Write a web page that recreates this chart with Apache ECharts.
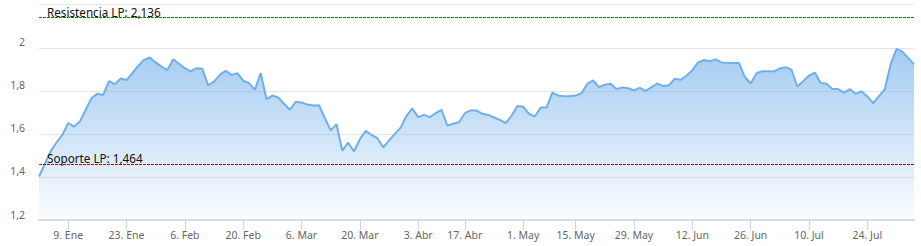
<!DOCTYPE html>
<html>
<head>
<meta charset="utf-8">
<script src="https://cdn.jsdelivr.net/npm/echarts@6/dist/echarts.min.js"></script>
<style>
html,body{margin:0;padding:0;background:#fff;}
#chart{width:921px;height:246px;}
</style>
</head>
<body>
<div id="chart"></div>
<script>
// ---- data ----
const startDate = '2023-01-02';
const endDate = '2023-08-03';
const holidays = ['2023-04-07', '2023-04-10', '2023-05-01'];

const prices = [
  1.402, 1.46, 1.52, 1.56, 1.595, 1.650, 1.634, 1.657, 1.712, 1.766,
  1.786, 1.781, 1.845, 1.831, 1.857, 1.850, 1.882, 1.916, 1.944, 1.955,
  1.932, 1.913, 1.896, 1.947, 1.926, 1.905, 1.890, 1.905, 1.902, 1.825,
  1.843, 1.874, 1.893, 1.874, 1.882, 1.847, 1.836, 1.805, 1.882, 1.761,
  1.778, 1.769, 1.740, 1.712, 1.749, 1.746, 1.736, 1.732, 1.733, 1.673,
  1.616, 1.645, 1.522, 1.560, 1.518, 1.575, 1.614, 1.595, 1.580, 1.538,
  1.569, 1.600, 1.629, 1.684, 1.718, 1.678, 1.688, 1.678, 1.696, 1.712,
  1.639, 1.647, 1.654, 1.696, 1.709, 1.709, 1.693, 1.688, 1.676, 1.665,
  1.650, 1.684, 1.730, 1.726, 1.693, 1.681, 1.722, 1.722, 1.792, 1.778,
  1.775, 1.775, 1.778, 1.789, 1.833, 1.848, 1.817, 1.828, 1.833, 1.808,
  1.816, 1.812, 1.802, 1.814, 1.800, 1.817, 1.834, 1.822, 1.826, 1.856,
  1.851, 1.870, 1.896, 1.932, 1.943, 1.938, 1.946, 1.932, 1.930, 1.929,
  1.929, 1.864, 1.834, 1.882, 1.891, 1.891, 1.890, 1.904, 1.910, 1.898,
  1.820, 1.845, 1.871, 1.885, 1.836, 1.833, 1.808, 1.808, 1.792, 1.808,
  1.786, 1.798, 1.774, 1.743, 1.775, 1.808, 1.925, 1.995, 1.982, 1.953,
  1.923
];

const tickDates = ['2023-01-09','2023-01-23','2023-02-06','2023-02-20','2023-03-06','2023-03-20',
  '2023-04-03','2023-04-17','2023-05-02','2023-05-15','2023-05-29','2023-06-12','2023-06-26',
  '2023-07-10','2023-07-24'];
const tickLabels = ['9. Ene','23. Ene','6. Feb','20. Feb','6. Mar','20. Mar','3. Abr','17. Abr',
  '1. May','15. May','29. May','12. Jun','26. Jun','10. Jul','24. Jul'];

const yTicks = [1.2, 1.4, 1.6, 1.8, 2, 2.2];
const resistance = 2.136;
const support = 1.464;
const resistanceLabel = 'Resistencia LP: 2,136';
const supportLabel = 'Soporte LP: 1,464';

// ---- trading-day categories ----
function tradingDays(s, e, hol) {
  const out = [];
  const d = new Date(s + 'T00:00:00Z');
  const end = new Date(e + 'T00:00:00Z');
  while (d <= end) {
    const wd = d.getUTCDay();
    const iso = d.toISOString().slice(0, 10);
    if (wd !== 0 && wd !== 6 && hol.indexOf(iso) < 0) out.push(iso);
    d.setUTCDate(d.getUTCDate() + 1);
  }
  return out;
}
const dates = tradingDays(startDate, endDate, holidays);
const tickSet = {};
tickDates.forEach((d, i) => { tickSet[d] = tickLabels[i]; });

const FONT = 'Noto Sans';
const markLabel = {
  show: true, position: 'insideStartTop', distance: [8, 0],
  color: '#111111', fontFamily: FONT, fontSize: 11.7
};
const chart = echarts.init(document.getElementById('chart'), null, {renderer: 'svg'});
chart.setOption({
  backgroundColor: '#ffffff',
  animation: false,
  grid: {left: 39, right: 7, top: 4.7, bottom: 26, containLabel: false},
  xAxis: {
    type: 'category',
    data: dates,
    boundaryGap: false,
    axisLine: {show: true, lineStyle: {color: '#d3dcec', width: 2}},
    axisTick: {
      show: true, length: 10,
      interval: (idx, val) => tickSet[val] !== undefined,
      lineStyle: {color: '#ccd6eb', width: 1}
    },
    axisLabel: {
      interval: (idx, val) => tickSet[val] !== undefined,
      formatter: (val) => tickSet[val] || '',
      color: '#666666', fontFamily: FONT, fontSize: 10.5, margin: 9,
      hideOverlap: false
    },
    splitLine: {show: false}
  },
  yAxis: {
    type: 'value',
    min: yTicks[0], max: yTicks[yTicks.length - 1], interval: 0.2,
    axisLine: {show: false},
    axisTick: {show: false},
    splitLine: {show: true, lineStyle: {color: '#e6e6e6', width: 1}},
    axisLabel: {
      color: '#666666', fontFamily: FONT, fontSize: 10.5, margin: 14,
      verticalAlign: 'bottom', lineHeight: 11,
      formatter: (v) => {
        if (Math.abs(v - yTicks[yTicks.length - 1]) < 1e-6) return '';
        return String(+v.toFixed(1)).replace('.', ',');
      }
    }
  },
  series: [{
    type: 'line',
    data: prices,
    showSymbol: false,
    symbol: 'none',
    lineStyle: {color: '#6fb0ea', width: 2},
    itemStyle: {color: '#6fb0ea'},
    areaStyle: {
      color: new echarts.graphic.LinearGradient(0, 0, 0, 1, [
        {offset: 0, color: 'rgba(124,181,236,1)'},
        {offset: 1, color: 'rgba(124,181,236,0.04)'}
      ])
    },
    markLine: {
      silent: true,
      symbol: ['none', 'none'],
      animation: false,
      data: [
        {yAxis: support, lineStyle: {color: '#d00000', type: [3, 1], width: 1}, label: {formatter: supportLabel}}
      ],
      label: markLabel
    }
  }, {
    type: 'line',
    data: [],
    showSymbol: false,
    lineStyle: {color: '#008000'},
    itemStyle: {color: '#008000'},
    markLine: {
      silent: true,
      symbol: ['none', 'none'],
      animation: false,
      data: [
        {yAxis: resistance, lineStyle: {color: '#008000', type: [3, 1], width: 1}, label: {formatter: resistanceLabel}}
      ],
      label: markLabel
    }
  }]
});
</script>
</body>
</html>
